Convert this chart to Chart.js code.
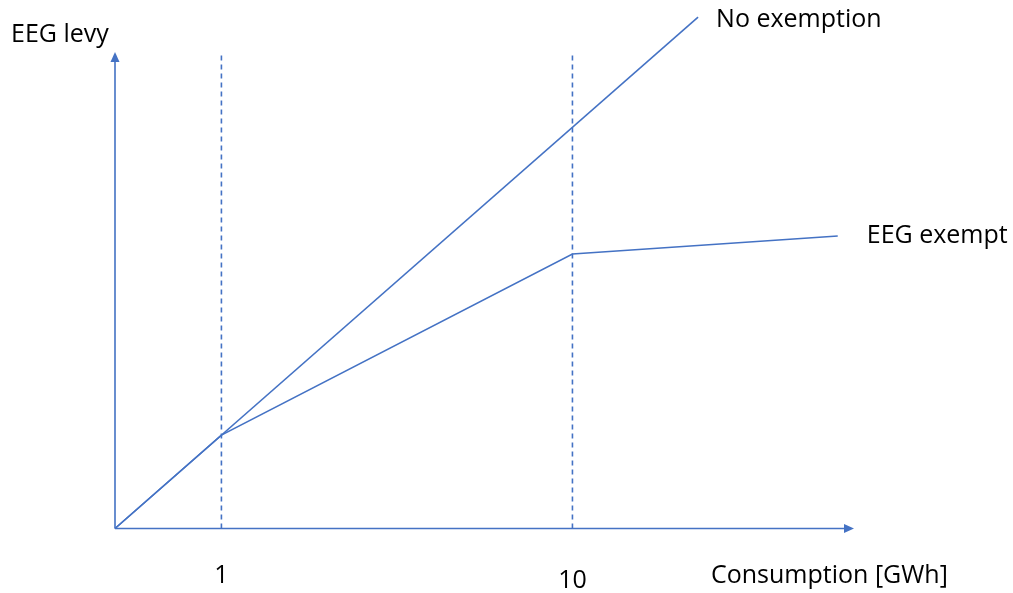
<!DOCTYPE html>
<html>
<head>
<meta charset="utf-8">
<script src="https://cdn.jsdelivr.net/npm/chart.js@4/dist/chart.umd.min.js"></script>
<style>
  html, body { margin: 0; padding: 0; background: #fff; }
  #wrap { width: 1013px; height: 593px; position: relative; }
</style>
</head>
<body>
<div id="wrap"><canvas id="chart"></canvas></div>
<script>
// x and y in axis percent (axis length = 100)
const noExemptX = [0, 78.9];
const noExemptY = [0, 107.3];
const exemptX = [0, 14.4, 61.9, 97.8];
const exemptY = [0, 19.6, 57.6, 61.4];
const thresholdX = [14.4, 61.9];
const tickLabels = ['1', '10'];

const blue = '#4472C4';
const font = '25px "Open Sans"';

function toPoints(xs, ys) {
  return xs.map((x, i) => ({ x: x, y: ys[i] }));
}

const datasets = [
  { data: toPoints(noExemptX, noExemptY) },
  { data: toPoints(exemptX, exemptY) }
];
thresholdX.forEach(x => {
  datasets.push({ data: [{ x: x, y: 0 }, { x: x, y: 100 }], borderDash: [5, 4] });
});
datasets.forEach(d => {
  d.borderColor = blue;
  d.borderWidth = 1.6;
  d.pointRadius = 0;
  d.fill = false;
  d.clip = false;
});

const annotations = {
  id: 'annotations',
  beforeDatasetsDraw(chart) {
    const ctx = chart.ctx;
    const xs = chart.scales.x;
    const ys = chart.scales.y;
    const x0 = xs.getPixelForValue(0);
    const y0 = ys.getPixelForValue(0);
    const xEnd = xs.getPixelForValue(100);
    const yEnd = ys.getPixelForValue(100);
    ctx.save();
    ctx.strokeStyle = blue;
    ctx.fillStyle = blue;
    ctx.lineWidth = 1.6;
    ctx.beginPath();
    ctx.moveTo(x0, y0);
    ctx.lineTo(xEnd - 8, y0);
    ctx.moveTo(x0, y0);
    ctx.lineTo(x0, yEnd + 8);
    ctx.stroke();
    // arrowheads
    ctx.beginPath();
    ctx.moveTo(xEnd, y0);
    ctx.lineTo(xEnd - 10, y0 - 4.5);
    ctx.lineTo(xEnd - 10, y0 + 4.5);
    ctx.closePath();
    ctx.fill();
    ctx.beginPath();
    ctx.moveTo(x0, yEnd);
    ctx.lineTo(x0 - 4.5, yEnd + 10);
    ctx.lineTo(x0 + 4.5, yEnd + 10);
    ctx.closePath();
    ctx.fill();
    ctx.restore();
  },
  afterDraw(chart) {
    const ctx = chart.ctx;
    const xs = chart.scales.x;
    const ys = chart.scales.y;
    ctx.save();
    ctx.fillStyle = '#000';
    ctx.font = font;
    ctx.textBaseline = 'alphabetic';
    ctx.textAlign = 'left';
    ctx.fillText('EEG levy', 11, 41.5);
    ctx.fillText('No exemption',
      xs.getPixelForValue(noExemptX[1]) + 18, ys.getPixelForValue(noExemptY[1]) + 10);
    ctx.fillText('EEG exempt',
      xs.getPixelForValue(exemptX[3]) + 29, ys.getPixelForValue(exemptY[3]) + 7);
    ctx.fillText('Consumption [GWh]', 711, 582.5);
    ctx.textAlign = 'center';
    ctx.fillText(tickLabels[0], xs.getPixelForValue(thresholdX[0]), 583);
    ctx.fillText(tickLabels[1], xs.getPixelForValue(thresholdX[1]), 588);
    ctx.restore();
  }
};

new Chart(document.getElementById('chart'), {
  type: 'line',
  data: { datasets: datasets },
  options: {
    responsive: true,
    maintainAspectRatio: false,
    animation: false,
    layout: { padding: { left: 115, right: 159, top: 52, bottom: 64.5 } },
    plugins: { legend: { display: false }, tooltip: { enabled: false } },
    scales: {
      x: { type: 'linear', min: 0, max: 100, display: false },
      y: { type: 'linear', min: 0, max: 100, display: false }
    }
  },
  plugins: [annotations]
});
</script>
</body>
</html>
